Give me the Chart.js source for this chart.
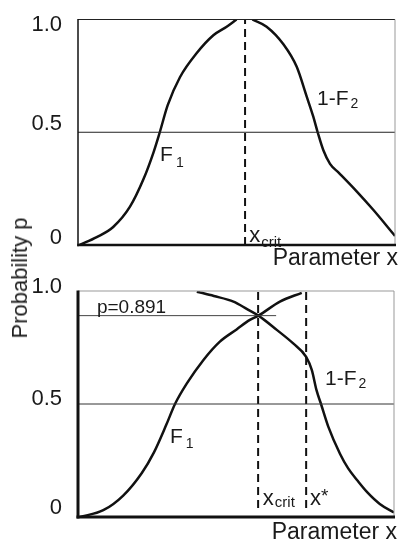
<!DOCTYPE html>
<html>
<head>
<meta charset="utf-8">
<script src="https://cdn.jsdelivr.net/npm/chart.js@4"></script>
<style>
  html, body { margin: 0; padding: 0; background: #fff; }
  #wrap { position: relative; width: 403px; height: 542px; }
  canvas { display: block; }
  #ytitle { position: absolute; left: 20px; top: 278px; transform: translate(-50%, -50%) rotate(-90deg);
    font: 22px "Liberation Sans", Arial, sans-serif; color: #222; white-space: nowrap; }
</style>
</head>
<body>
<div id="wrap">
  <canvas id="c1" width="403" height="271"></canvas>
  <canvas id="c2" width="403" height="271"></canvas>
  <div id="ytitle">Probability p</div>
</div>
<script>
// ---- data (x: parameter, 0..100 ; y: probability) ----
const yTicks = [0, 0.5, 1.0];
const yTickLabels = ['0', '0.5', '1.0'];
const xTitle = 'Parameter x';

// top panel
const topF1X = [0.5, 5.9, 11.1, 16.4, 20.6, 23.8, 25.8, 28.3, 32.2, 37.4, 42.7, 46.9, 50];
const topF1Y = [0, 0.035, 0.08, 0.17, 0.29, 0.41, 0.5, 0.62, 0.745, 0.85, 0.93, 0.968, 1.0];
const topF2X = [55, 59.5, 64.8, 69, 72.1, 74.2, 75.6, 77.4, 79.5, 82.3, 87.9, 93.2, 100];
const topF2Y = [1.0, 0.968, 0.89, 0.79, 0.66, 0.57, 0.5, 0.42, 0.36, 0.32, 0.238, 0.155, 0.04];
const topXcrit = 52.7;

// bottom panel
const botF1X = [0.6, 8, 14.3, 20.2, 24, 28, 30.7, 34.4, 39.7, 44.9, 50.2, 54.4, 57.1, 63.9, 70.8];
const botF1Y = [0, 0.03, 0.095, 0.195, 0.285, 0.41, 0.5, 0.59, 0.695, 0.776, 0.83, 0.872, 0.891, 0.953, 0.992];
const botF2X = [37.6, 43, 49.2, 53.5, 57.1, 62.9, 68.1, 72.2, 74, 75.5, 76.9, 79.2, 82.9, 85.5, 88.5, 91.5, 95.5, 100];
const botF2Y = [0.997, 0.978, 0.953, 0.92, 0.891, 0.828, 0.768, 0.709, 0.65, 0.56, 0.5, 0.4, 0.28, 0.215, 0.16, 0.11, 0.058, 0.02];
const botXcrit = 57.0;
const botXstar = 72.2;
const pCrit = 0.891;
const pCritLineEnd = 62.7;

const pts = (xs, ys) => xs.map((x, i) => ({ x, y: ys[i] }));
const FONT = '"Liberation Sans", Arial, sans-serif';
const INK = '#1a1a1a';

function curve(data) {
  return { data, borderColor: '#111', borderWidth: 2.5, pointRadius: 0, cubicInterpolationMode: 'monotone', fill: false };
}
function refLine(data, w, color) {
  return { data, borderColor: color || '#222', borderWidth: w || 1, pointRadius: 0, tension: 0, fill: false };
}
function dashLine(data) {
  return { data, borderColor: '#111', borderWidth: 2, borderDash: [8, 5], pointRadius: 0, tension: 0, fill: false };
}

const deco = {
  id: 'deco',
  afterDraw(chart, args, o) {
    const ctx = chart.ctx, a = chart.chartArea, sx = chart.scales.x, sy = chart.scales.y;
    ctx.save();
    const seg = (x1, y1, x2, y2, w, c) => { ctx.beginPath(); ctx.lineWidth = w; ctx.strokeStyle = c; ctx.moveTo(x1, y1); ctx.lineTo(x2, y2); ctx.stroke(); };
    seg(a.left, a.top, a.right, a.top, 1, o.topColor);
    seg(a.right, a.top, a.right, a.bottom, 1, '#999');
    seg(a.left, a.top - 0.5, a.left, a.bottom + o.bottomW / 2, o.leftW, '#111');
    seg(a.left - o.leftW / 2, a.bottom, a.right + 1, a.bottom, o.bottomW, '#111');
    ctx.fillStyle = INK;
    ctx.font = '22px ' + FONT;
    ctx.textAlign = 'right';
    ctx.textBaseline = 'middle';
    yTicks.forEach((v, i) => ctx.fillText(yTickLabels[i], a.left - 16, sy.getPixelForValue(v) + o.tickOff[i]));
    ctx.textBaseline = 'alphabetic';
    ctx.font = '23px ' + FONT;
    ctx.fillText(xTitle, a.right + 3, a.bottom + o.titleOff);
    ctx.textAlign = 'left';
    o.labels.forEach(l => {
      const px = sx.getPixelForValue(l.x), py = sy.getPixelForValue(l.y);
      ctx.font = (l.size || 21) + 'px ' + FONT;
      ctx.fillText(l.text, px, py);
      const w = ctx.measureText(l.text).width;
      if (l.sub) {
        ctx.font = (l.subSize || 14) + 'px ' + FONT;
        ctx.fillText(l.sub, px + w + (l.gap || 1), py + (l.subDy || 5));
      }
      if (l.sup) {
        ctx.font = '19px ' + FONT;
        ctx.fillText(l.sup, px + w, py - 3);
      }
    });
    ctx.restore();
  }
};

function makeChart(id, datasets, pad, decoOpts) {
  return new Chart(document.getElementById(id), {
    type: 'line',
    data: { datasets },
    options: {
      responsive: false, animation: false,
      layout: { padding: pad },
      scales: {
        x: { type: 'linear', min: 0, max: 100, display: false },
        y: { type: 'linear', min: 0, max: 1, display: false }
      },
      plugins: { legend: { display: false }, tooltip: { enabled: false }, deco: decoOpts }
    },
    plugins: [deco]
  });
}

makeChart('c1', [
  refLine([{ x: 0, y: 0.5 }, { x: 100, y: 0.5 }], 1, '#222'),
  dashLine([{ x: topXcrit, y: 0 }, { x: topXcrit, y: 1 }]),
  curve(pts(topF1X, topF1Y)),
  curve(pts(topF2X, topF2Y))
], { left: 78, right: 8, top: 19.5, bottom: 26 }, {
  topColor: '#222', leftW: 1.5, bottomW: 2.5, tickOff: [-7.5, -8, 5], titleOff: 20,
  labels: [
    { text: 'F', sub: '1', x: 25.9, y: 0.372, gap: 3, subDy: 6 },
    { text: '1-F', sub: '2', x: 75.4, y: 0.621, gap: 2, subDy: 3 },
    { text: 'x', sub: 'crit', x: 54.0, y: 0.012, size: 22, subSize: 15, gap: 1, subDy: 0 }
  ]
});

makeChart('c2', [
  refLine([{ x: 0, y: 0.5 }, { x: 100, y: 0.5 }], 1, '#333'),
  refLine([{ x: 0, y: pCrit }, { x: pCritLineEnd, y: pCrit }], 1, '#444'),
  dashLine([{ x: botXcrit, y: 0.04 }, { x: botXcrit, y: 1 }]),
  dashLine([{ x: botXstar, y: 0.04 }, { x: botXstar, y: 1 }]),
  curve(pts(botF1X, botF1Y)),
  curve(pts(botF2X, botF2Y))
], { left: 78, right: 9, top: 20, bottom: 25 }, {
  topColor: '#999', leftW: 3, bottomW: 3, tickOff: [-9, -5, -4], titleOff: 22,
  labels: [
    { text: 'p=0.891', x: 6.0, y: 0.903, size: 19 },
    { text: 'F', sub: '1', x: 29.1, y: 0.327, gap: 3, subDy: 5 },
    { text: '1-F', sub: '2', x: 78.2, y: 0.584, gap: 2, subDy: 3 },
    { text: 'x', sub: 'crit', x: 58.5, y: 0.053, size: 22, subSize: 15, gap: 1, subDy: 2 },
    { text: 'x', sup: '*', x: 73.4, y: 0.053, size: 22 }
  ]
});
</script>
</body>
</html>
